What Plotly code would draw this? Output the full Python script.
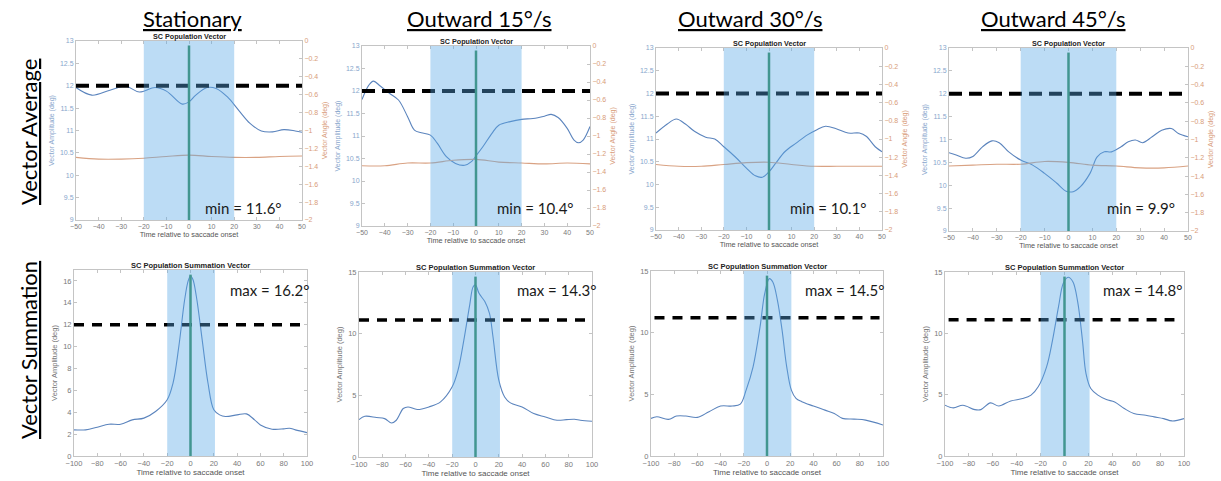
import plotly.graph_objects as go

# ---------------- data ----------------
column_titles = ["Stationary", "Outward 15°/s", "Outward 30°/s", "Outward 45°/s"]
row_titles = ["Vector Average", "Vector Summation"]
avg_panel_title = "SC Population Vector"
sum_panel_title = "SC Population Summation Vector"
avg_xlabel = "Time relative to saccade onset"
amp_label = "Vector Amplitude (deg)"
ang_label = "Vector Angle (deg)"

# Vector average: amplitude (left axis)
va_t_stat = [-50, -43, -35, -28, -22, -15, -10, -3, 0, 3, 8, 12, 17, 22, 27, 32, 37, 42, 47, 50]
va_amp_stat = [11.96, 11.79, 11.90, 11.99, 11.86, 11.96, 11.88, 11.59, 11.64, 11.79, 11.96, 11.94,
               11.75, 11.45, 11.16, 10.99, 10.97, 11.02, 10.99, 10.96]
va_t_15 = [-50, -47, -45, -42, -38, -34, -30, -27, -24, -20, -17, -13, -9, -5, -2, 0, 3, 7, 10, 15,
           20, 25, 30, 33, 36, 40, 43, 45, 47, 50]
va_amp_15 = [11.81, 12.13, 12.22, 12.11, 11.95, 11.80, 11.43, 11.13, 11.07, 11.02, 10.84, 10.54,
             10.39, 10.35, 10.43, 10.56, 10.76, 11.06, 11.24, 11.32, 11.37, 11.39, 11.44, 11.48,
             11.41, 11.17, 10.91, 10.85, 10.91, 11.21]
va_t_30 = [-50, -45, -41, -37, -33, -28, -24, -20, -15, -10, -6, -3, 0, 3, 7, 12, 17, 21, 25, 30,
           35, 40, 43, 47, 50]
va_amp_30 = [11.13, 11.33, 11.44, 11.33, 11.17, 11.04, 11.00, 10.83, 10.61, 10.36, 10.19, 10.16,
             10.28, 10.47, 10.72, 10.91, 11.09, 11.20, 11.28, 11.22, 11.13, 11.13, 11.06, 10.83, 10.72]
va_t_45 = [-50, -47, -43, -40, -36, -32, -29, -25, -20, -15, -10, -5, -1, 2, 5, 9, 12, 15, 18, 22,
           25, 28, 31, 35, 39, 43, 46, 50]
va_amp_45 = [10.71, 10.66, 10.59, 10.63, 10.84, 10.97, 10.93, 10.73, 10.55, 10.44, 10.26, 10.05,
             9.87, 9.86, 9.97, 10.26, 10.62, 10.73, 10.73, 10.84, 10.95, 10.99, 10.93, 11.06, 11.20,
             11.24, 11.13, 11.06]

# Vector average: angle (right axis)
va_ang_t = [-50, -40, -30, -20, -10, 0, 10, 20, 30, 40, 50]
va_ang_stat = [-1.30, -1.32, -1.32, -1.31, -1.29, -1.275, -1.29, -1.30, -1.30, -1.29, -1.285]
va_ang_15 = [-1.33, -1.33, -1.30, -1.30, -1.27, -1.26, -1.29, -1.30, -1.31, -1.30, -1.31]
va_ang_30 = [-1.28, -1.30, -1.30, -1.28, -1.26, -1.255, -1.28, -1.30, -1.30, -1.30, -1.30]
va_ang_45 = [-1.29, -1.28, -1.27, -1.27, -1.24, -1.25, -1.28, -1.29, -1.31, -1.31, -1.29]

# Vector summation amplitude
vs_t_stat = [-100, -90, -80, -70, -60, -50, -40, -30, -20, -15, -10, -5, -2, 0, 2, 5, 10, 15, 20,
             25, 30, 40, 48, 55, 60, 70, 80, 85, 90, 100]
vs_amp_stat = [2.39, 2.39, 2.63, 2.90, 2.90, 3.30, 3.46, 4.07, 5.14, 6.67, 10.03, 14.30, 16.00,
               16.45, 16.15, 14.60, 10.64, 6.67, 4.22, 3.76, 3.61, 3.76, 3.85, 3.30, 2.84, 2.45,
               2.48, 2.54, 2.39, 2.14]
vs_t_15 = [-100, -95, -85, -78, -72, -68, -62, -58, -50, -40, -30, -20, -15, -10, -5, -2, 0, 3, 8,
           12, 15, 20, 25, 30, 40, 50, 60, 70, 78, 85, 90, 100]
vs_amp_15 = [3.03, 3.30, 3.20, 3.11, 2.76, 2.98, 3.93, 4.06, 3.85, 4.06, 4.47, 5.69, 7.04, 9.48,
             12.32, 13.81, 13.95, 13.27, 12.60, 11.64, 9.75, 6.23, 4.87, 4.39, 4.06, 3.52, 3.25,
             2.98, 3.03, 3.06, 2.98, 2.90]
vs_t_30 = [-100, -95, -85, -78, -70, -60, -50, -40, -30, -23, -18, -12, -6, -2, 2, 5, 9, 13, 17,
           21, 25, 30, 40, 50, 58, 65, 75, 85, 100]
vs_amp_30 = [3.05, 3.18, 2.97, 3.24, 3.24, 3.13, 3.59, 4.05, 4.05, 4.21, 5.34, 7.23, 10.47, 13.16,
             14.38, 14.11, 12.62, 10.20, 7.23, 5.34, 4.67, 4.40, 4.05, 3.72, 3.45, 3.05, 2.99, 2.91,
             2.51]
vs_t_45 = [-100, -93, -85, -75, -70, -62, -55, -45, -35, -28, -22, -15, -10, -5, -1, 3, 7, 11, 15,
           18, 22, 28, 35, 42, 50, 58, 68, 75, 83, 90, 100]
vs_amp_45 = [4.14, 3.92, 4.14, 3.78, 3.78, 4.33, 4.08, 4.49, 4.68, 4.96, 5.64, 7.27, 9.45, 12.17,
             14.08, 14.57, 14.21, 12.58, 9.45, 6.72, 5.50, 4.96, 4.60, 4.41, 3.87, 3.46, 3.32, 3.19,
             3.05, 2.86, 3.05]

avg_min_labels = ["min = 11.6°", "min = 10.4°", "min = 10.1°", "min = 9.9°"]
sum_max_labels = ["max = 16.2°", "max = 14.3°", "max = 14.5°", "max = 14.8°"]
avg_ref_level = [12, 12, 12, 12]
sum_ref_level = [12, 11.1, 11.2, 11.1]
avg_window = [-20, 20]
sum_window = [-20, 21]

va_times = [va_t_stat, va_t_15, va_t_30, va_t_45]
va_amps = [va_amp_stat, va_amp_15, va_amp_30, va_amp_45]
va_angs = [va_ang_stat, va_ang_15, va_ang_30, va_ang_45]
vs_times = [vs_t_stat, vs_t_15, vs_t_30, vs_t_45]
vs_amps = [vs_amp_stat, vs_amp_15, vs_amp_30, vs_amp_45]

# ---------------- layout geometry ----------------
W, H = 1221, 481
top_px = [(76, 302, 41, 220), (362, 590, 46, 226), (656, 882, 48, 230), (949, 1188, 48, 231)]
bot_px = [(74, 307, 270, 456), (359, 592, 272, 457), (651, 883, 271, 456), (945, 1184, 272, 456)]
bot_ymax = [17, 15, 15, 15]
bot_dtick = [2, 5, 5, 5]
bot_dash_x = [(-100, 95), (-100, 96), (-97, 97), (-97, 92)]
col_cx = [192, 480, 750, 1053]
min_lbl_x = [203, 495, 788, 1105]
max_lbl_x = [228, 515, 803, 1101]

BLUE = "#5b84bd"
ORANGE = "#d9a283"
AXC = "#c4c4c4"
TICKC = "#7a7a7a"
BLUE_T = "#88a6cc"
ORANGE_T = "#d89c7a"
SHADE = "rgb(88,168,230)"
GREEN = "#348a58"
SANS = "Liberation Sans"
TITLEF = "Lato"


def xdom(x0, x1):
    return [x0 / W, x1 / W]


def ydom(y0, y1):
    return [1 - y1 / H, 1 - y0 / H]


def sfx(i):
    return "" if i == 1 else str(i)


fig = go.Figure()
layout = dict(
    width=W, height=H, margin=dict(l=0, r=0, t=0, b=0),
    paper_bgcolor="white", plot_bgcolor="white", showlegend=False,
    template="none",
)
shapes = []
annotations = []

base_ax = dict(showline=True, linecolor=AXC, linewidth=1, ticks="inside", ticklen=3,
               tickcolor=AXC, showgrid=False, zeroline=False, automargin=False,
               tickfont=dict(family=SANS, size=7, color=TICKC))


def add_common_shapes(i, yref_main, win, ref, dash_x0, dash_x1, dash, width):
    s = sfx(i)
    shapes.append(dict(type="line", xref="x" + s, yref=yref_main, x0=dash_x0, x1=dash_x1,
                       y0=ref, y1=ref, line=dict(color="black", width=width, dash=dash),
                       layer="above"))
    shapes.append(dict(type="line", xref="x" + s, yref="y" + s + " domain", x0=0, x1=0,
                       y0=0, y1=0.975, line=dict(color=GREEN, width=2.5), layer="above"))
    shapes.append(dict(type="rect", xref="x" + s, yref="y" + s + " domain", x0=win[0], x1=win[1],
                       y0=0, y1=1, fillcolor=SHADE, opacity=0.4, line=dict(width=0),
                       layer="above"))


# ---- top row: vector average ----
for k in range(4):
    i = k + 1
    s = sfx(i)
    r = 8 + i
    x0, x1, y0, y1 = top_px[k]
    fig.add_trace(go.Scatter(x=va_times[k], y=va_amps[k], mode="lines", xaxis="x" + s,
                             yaxis="y" + s, line=dict(color=BLUE, width=1.1, shape="spline")))
    fig.add_trace(go.Scatter(x=va_ang_t, y=va_angs[k], mode="lines", xaxis="x" + s,
                             yaxis="y" + str(r),
                             line=dict(color=ORANGE, width=1.1, shape="spline")))
    layout["xaxis" + s] = dict(base_ax, domain=xdom(x0, x1), range=[-50, 50], dtick=10,
                               tick0=0, anchor="y" + s, mirror="ticks",
                               title=dict(text=avg_xlabel, standoff=2,
                                          font=dict(family=SANS, size=7.3, color="#555555")))
    layout["yaxis" + s] = dict(base_ax, domain=ydom(y0, y1), range=[9, 13], dtick=0.5, tick0=9,
                               anchor="x" + s,
                               tickfont=dict(family=SANS, size=7, color=BLUE_T),
                               title=dict(text=amp_label, standoff=4,
                                          font=dict(family=SANS, size=7, color=BLUE_T)))
    layout["yaxis" + str(r)] = dict(base_ax, range=[-2, 0], dtick=0.2, tick0=0,
                                    anchor="x" + s, overlaying="y" + s, side="right",
                                    tickfont=dict(family=SANS, size=7, color=ORANGE_T),
                                    title=dict(text=ang_label, standoff=4,
                                               font=dict(family=SANS, size=7, color=ORANGE_T)))
    add_common_shapes(i, "y" + s, avg_window, avg_ref_level[k], -50, 50, "13px,7px", 4)
    annotations.append(dict(text="<b>" + avg_panel_title + "</b>", xref="paper", yref="paper",
                            x=((x0 + x1) / 2) / W, y=1 - (y0 - 4.5) / H, xanchor="center",
                            yanchor="middle", showarrow=False,
                            font=dict(family=SANS, size=7.2, color="#222222")))
    annotations.append(dict(text=avg_min_labels[k], xref="paper", yref="paper",
                            x=min_lbl_x[k] / W, y=1 - 208 / H, xanchor="left",
                            yanchor="middle", showarrow=False,
                            font=dict(family=TITLEF, size=15, color="#1a1a1a")))
    annotations.append(dict(text=column_titles[k], xref="paper", yref="paper",
                            x=col_cx[k] / W, y=1 - 18 / H, xanchor="center", yanchor="middle",
                            showarrow=False,
                            font=dict(family=TITLEF, size=22, color="black",
                                      lineposition="under")))

# ---- bottom row: vector summation ----
for k in range(4):
    i = k + 5
    s = sfx(i)
    x0, x1, y0, y1 = bot_px[k]
    fig.add_trace(go.Scatter(x=vs_times[k], y=vs_amps[k], mode="lines", xaxis="x" + s,
                             yaxis="y" + s, line=dict(color=BLUE, width=1.1, shape="spline")))
    layout["xaxis" + s] = dict(base_ax, domain=xdom(x0, x1), range=[-100, 100], dtick=20,
                               tick0=0, anchor="y" + s, mirror="ticks",
                               tickfont=dict(family=SANS, size=7.5, color=TICKC),
                               title=dict(text=avg_xlabel, standoff=2,
                                          font=dict(family=SANS, size=8, color="#555555")))
    layout["yaxis" + s] = dict(base_ax, domain=ydom(y0, y1), range=[0, bot_ymax[k]],
                               dtick=bot_dtick[k], tick0=0, anchor="x" + s, mirror="ticks",
                               tickfont=dict(family=SANS, size=7.5, color=TICKC),
                               title=dict(text=amp_label, standoff=4,
                                          font=dict(family=SANS, size=7.5, color="#777777")))
    add_common_shapes(i, "y" + s, sum_window, sum_ref_level[k], bot_dash_x[k][0],
                      bot_dash_x[k][1], "10px,8px", 3.5)
    annotations.append(dict(text="<b>" + sum_panel_title + "</b>", xref="paper", yref="paper",
                            x=((x0 + x1) / 2) / W, y=1 - (y0 - 5) / H, xanchor="center",
                            yanchor="middle", showarrow=False,
                            font=dict(family=SANS, size=7.5, color="#222222")))
    annotations.append(dict(text=sum_max_labels[k], xref="paper", yref="paper",
                            x=max_lbl_x[k] / W, y=1 - 290 / H, xanchor="left",
                            yanchor="middle", showarrow=False,
                            font=dict(family=TITLEF, size=15, color="#1a1a1a")))

# ---- row labels ----
for lbl, cy in zip(row_titles, [132, 350]):
    annotations.append(dict(text=lbl, xref="paper", yref="paper", x=28 / W, y=1 - cy / H,
                            xanchor="center", yanchor="middle", textangle=-90, showarrow=False,
                            font=dict(family=TITLEF, size=22, color="black",
                                      lineposition="under")))

layout["shapes"] = shapes
layout["annotations"] = annotations
fig.update_layout(**layout)
fig.write_html("out.html")
